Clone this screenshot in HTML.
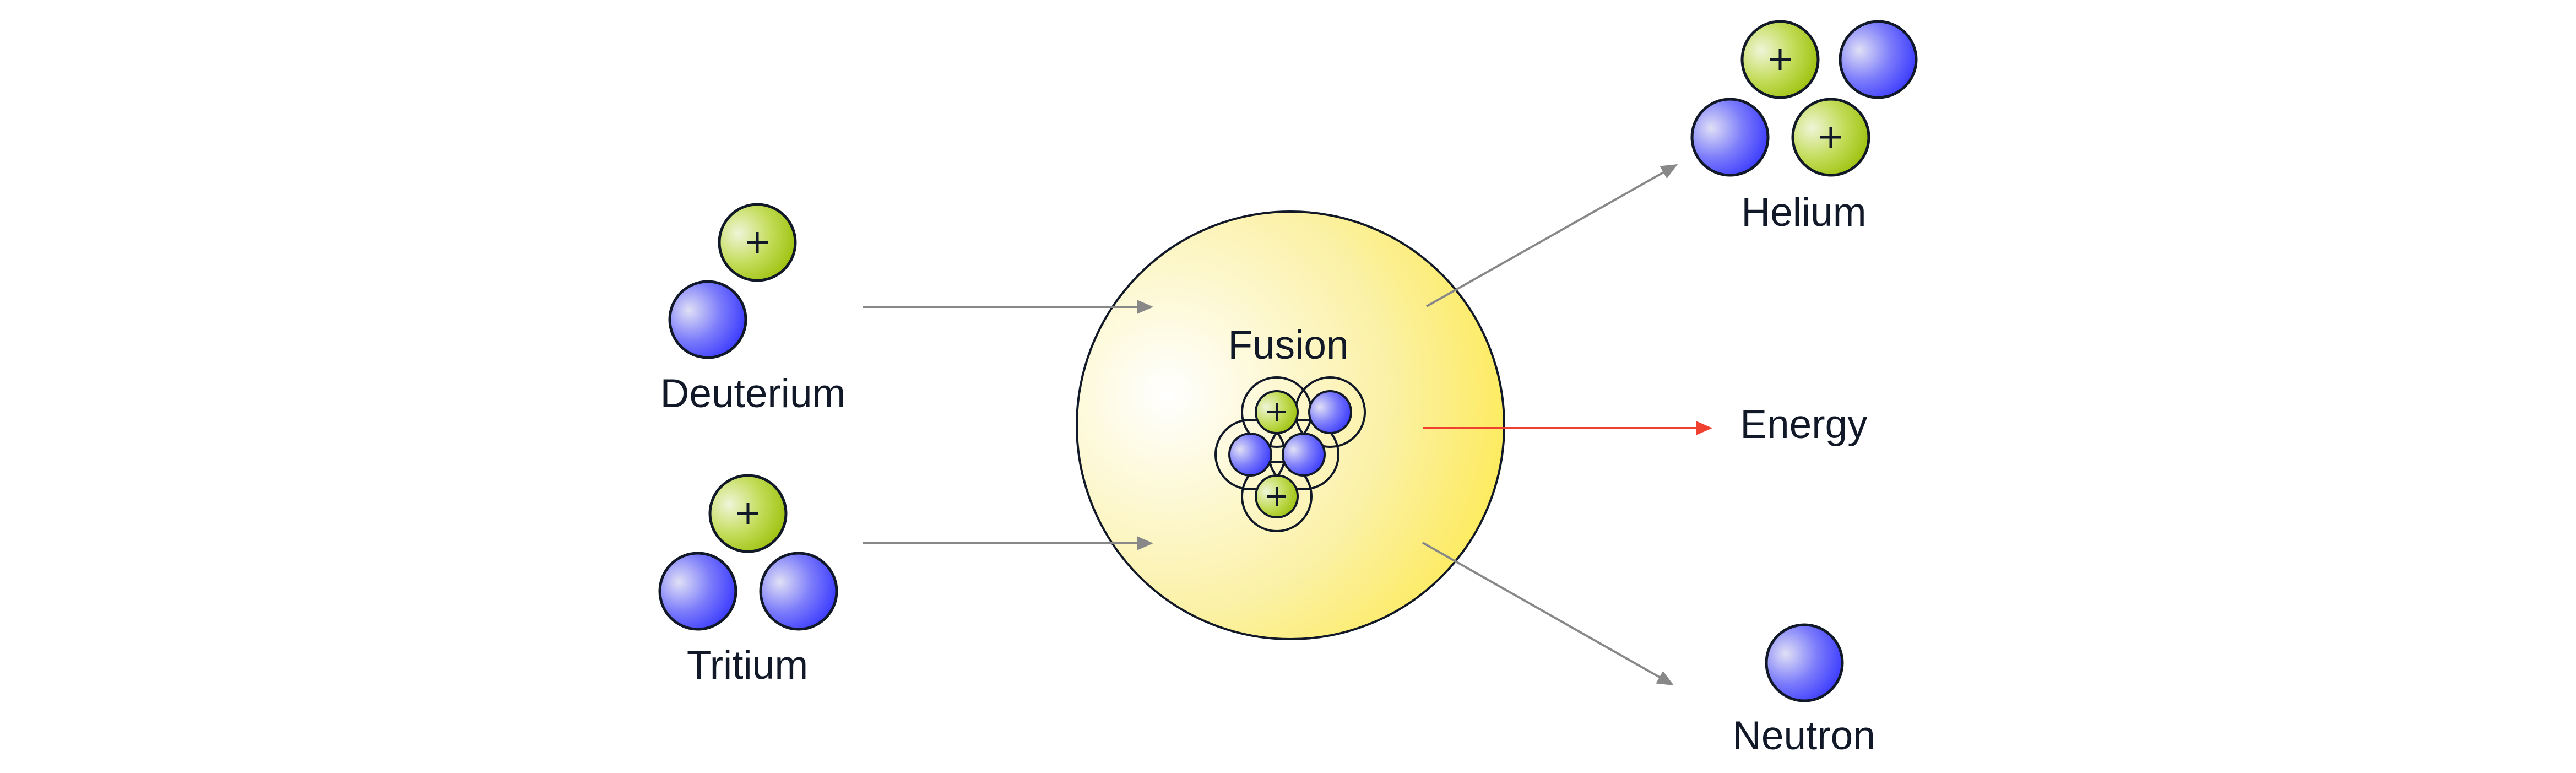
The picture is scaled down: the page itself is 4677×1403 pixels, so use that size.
<!DOCTYPE html>
<html><head><style>html,body{margin:0;padding:0;background:#fff}svg{display:block}</style></head>
<body>
<svg width="4677" height="1403" viewBox="0 0 4677 1403" xmlns="http://www.w3.org/2000/svg">
<defs>
<radialGradient id="gb" cx="0.3" cy="0.38" r="0.8" fx="0.25" fy="0.38">
<stop offset="0" stop-color="#e0e0f6"/><stop offset="0.5" stop-color="#7b7bfb"/><stop offset="1" stop-color="#2f2fff"/></radialGradient>
<radialGradient id="gg" cx="0.3" cy="0.38" r="0.8" fx="0.25" fy="0.38">
<stop offset="0" stop-color="#eef5d8"/><stop offset="0.5" stop-color="#c4dc5a"/><stop offset="1" stop-color="#96bd00"/></radialGradient>
<radialGradient id="gy" gradientUnits="userSpaceOnUse" cx="2120" cy="715" r="800" fx="2120" fy="715">
<stop offset="0" stop-color="#ffffff"/><stop offset="0.5" stop-color="#fbf1a6"/><stop offset="1" stop-color="#ffe626"/></radialGradient>
<g id="B"><circle r="69" fill="url(#gb)" stroke="#111827" stroke-width="5"/></g>
<g id="G"><circle r="69" fill="url(#gg)" stroke="#111827" stroke-width="5"/><path d="M-19,0 H19 M0,-19 V19" stroke="#111827" stroke-width="5"/></g>
<g id="b"><circle r="38" fill="url(#gb)" stroke="#111827" stroke-width="4"/></g>
<g id="g"><circle r="38" fill="url(#gg)" stroke="#111827" stroke-width="4"/><path d="M-17,0 H17 M0,-17 V17" stroke="#111827" stroke-width="4"/></g>
<path id="ah" d="M-30,-13 L0,0 L-30,13 z"/>
</defs>
<g font-family="Liberation Sans, sans-serif" font-size="73" fill="#111827" text-anchor="middle">
<use href="#G" x="1375" y="440"/><use href="#B" x="1285" y="580"/>
<text x="1367" y="739">Deuterium</text>
<use href="#G" x="1358" y="932"/><use href="#B" x="1267" y="1073"/><use href="#B" x="1450" y="1073"/>
<text x="1357" y="1232">Tritium</text>
<circle cx="2343" cy="772" r="388" fill="url(#gy)" stroke="#111827" stroke-width="4"/>
<line x1="1567" y1="557" x2="2080" y2="557" stroke="#888" stroke-width="4"/>
<use href="#ah" x="2094" y="557" fill="#888"/>
<line x1="1567" y1="986" x2="2080" y2="986" stroke="#888" stroke-width="4"/>
<use href="#ah" x="2094" y="986" fill="#888"/>
<text x="2339" y="651">Fusion</text>
<g fill="none" stroke="#111827" stroke-width="4">
<circle cx="2318" cy="748" r="63"/><circle cx="2415" cy="748" r="63"/>
<circle cx="2270" cy="825" r="63"/><circle cx="2367" cy="825" r="63"/>
<circle cx="2318" cy="901" r="63"/></g>
<use href="#g" x="2318" y="748"/><use href="#b" x="2415" y="748"/>
<use href="#b" x="2270" y="825"/><use href="#b" x="2367" y="825"/>
<use href="#g" x="2318" y="901"/>
<line x1="2590" y1="556" x2="3034" y2="305" stroke="#888" stroke-width="4"/>
<use href="#ah" transform="translate(3046,298) rotate(-29.5)" fill="#888"/>
<line x1="2583" y1="985" x2="3027" y2="1237" stroke="#888" stroke-width="4"/>
<use href="#ah" transform="translate(3039,1244) rotate(29.6)" fill="#888"/>
<line x1="2583" y1="777" x2="3095" y2="777" stroke="#f04030" stroke-width="4"/>
<use href="#ah" x="3109" y="777" fill="#f04030"/>
<use href="#G" x="3232" y="108"/><use href="#B" x="3410" y="108"/>
<use href="#B" x="3141" y="249"/><use href="#G" x="3324" y="249"/>
<text x="3275" y="410">Helium</text>
<text x="3275" y="795">Energy</text>
<use href="#B" x="3276" y="1203"/>
<text x="3275" y="1360">Neutron</text>
</g>
</svg>
</body></html>
